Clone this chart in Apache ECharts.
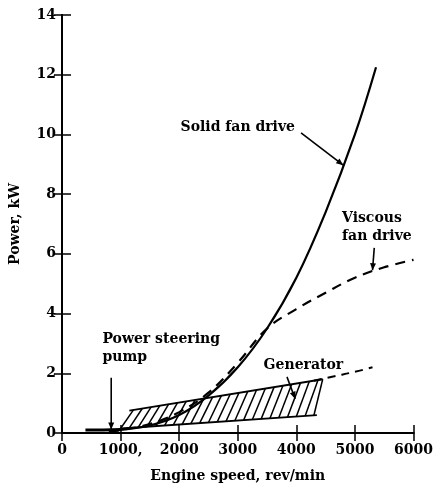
<!DOCTYPE html>
<html><head><meta charset="utf-8">
<script src="https://cdn.jsdelivr.net/npm/echarts@6/dist/echarts.min.js"></script>
<style>html,body{margin:0;padding:0;background:#fff}#c{width:436px;height:490px}</style>
</head><body><div id="c"></div>
<script>
// ---- data ----
const xTickLabels = ['0','1000,','2000','3000','4000','5000','6000'];
const yTickLabels = ['0','2','4','6','8','10','12','14'];

const solidSpeed = [800, 1000, 1500, 2000, 2500, 3000, 3500, 4000, 4500, 5000, 5360];
const solidPower = [0.05, 0.1, 0.25, 0.6, 1.25, 2.2, 3.5, 5.2, 7.4, 10.0, 12.25];

const viscousSpeed = [800, 1000, 1500, 2000, 2500, 3000, 3500, 4000, 4500, 5000, 5500, 6000];
const viscousPower = [0.05, 0.1, 0.3, 0.7, 1.35, 2.35, 3.5, 4.15, 4.7, 5.2, 5.55, 5.8];

const generatorSpeed = [4300, 4650, 5000, 5300];
const generatorPower = [1.75, 1.9, 2.05, 2.2];

const pumpSpeed = [400, 700, 1000];
const pumpPower = [0.1, 0.1, 0.12];

// generator band (hatched)
const bandLowSpeed = [1000, 4350];
const bandLowPower = [0.15, 0.6];
const bandHighSpeed = [1150, 4450];
const bandHighPower = [0.75, 1.8];

// annotations (data units)
const notes = [
  {text: 'Solid fan drive', at: [3000, 10.25], align: 'center', arrow: [[4080, 10.05], [4800, 8.97]]},
  {text: 'Viscous\nfan drive', at: [4780, 6.9], align: 'left', arrow: [[5330, 6.2], [5300, 5.45]]},
  {text: 'Power steering\npump', at: [690, 2.85], align: 'left', arrow: [[840, 1.85], [840, 0.12]]},
  {text: 'Generator', at: [4120, 2.25], align: 'center', arrow: [[3840, 1.88], [3980, 1.15]]}
];

const pair = (xs, ys) => xs.map((x, i) => [x, ys[i]]);
const FONT = 'DejaVu Serif';

function interp(xs, ys, x) {
  const t = (x - xs[0]) / (xs[1] - xs[0]);
  return ys[0] + t * (ys[1] - ys[0]);
}

const chart = echarts.init(document.getElementById('c'));
const lbl = {fontFamily: FONT, fontWeight: 'bold', color: '#000', fontSize: 14};
const axLine = {show: true, lineStyle: {color: '#000', width: 2}};
const option = {
  backgroundColor: '#fff',
  animation: false,
  grid: {left: 62, right: 17, top: 15, bottom: 57},
  xAxis: [
    {type: 'value', min: 0, max: 6000, interval: 1000, position: 'bottom',
     axisLine: {...axLine, onZero: false}, splitLine: {show: false},
     axisTick: {show: true, inside: true, length: 8, lineStyle: {color: '#000', width: 1.5}},
     axisLabel: {...lbl, margin: 10, formatter: v => xTickLabels[Math.round(v / 1000)]},
     name: 'Engine speed, rev/min', nameLocation: 'middle', nameGap: 36,
     nameTextStyle: {...lbl, fontSize: 14}},
    {type: 'value', min: 0, max: 6000, interval: 1000, position: 'top',
     axisLine: axLine, splitLine: {show: false},
     axisTick: {show: true, inside: true, length: 8, lineStyle: {color: '#000', width: 1.5}},
     axisLabel: {show: false}}
  ],
  yAxis: [
    {type: 'value', min: 0, max: 14, interval: 2, position: 'left',
     axisLine: {...axLine, onZero: false}, splitLine: {show: false},
     axisTick: {show: true, inside: true, length: 9, lineStyle: {color: '#000', width: 1.5}},
     axisLabel: {...lbl, margin: 6, formatter: v => yTickLabels[Math.round(v / 2)]},
     name: 'Power, kW', nameLocation: 'middle', nameGap: 40,
     nameTextStyle: {...lbl, fontSize: 14}},
    {type: 'value', min: 0, max: 14, interval: 2, position: 'right',
     axisLine: axLine, splitLine: {show: false},
     axisTick: {show: true, inside: true, length: 8, lineStyle: {color: '#000', width: 1.5}},
     axisLabel: {show: false}}
  ],
  series: [
    {type: 'custom', name: 'band', data: [[0, 0]], silent: true, z: 3,
     renderItem: function (params, api) {
       const children = [];
       const x0 = bandLowSpeed[0], x1 = bandLowSpeed[1];
       const sh = 220; // slant in rpm
       const lo = x => api.coord([x, interp(bandLowSpeed, bandLowPower, x)]);
       const hi = x => api.coord([x, interp(bandHighSpeed, bandHighPower, x)]);
       // outline
       children.push({type: 'polyline', shape: {points: [lo(x0), lo(x1)]}, style: {stroke: '#000', lineWidth: 1.8, fill: null}});
       children.push({type: 'polyline', shape: {points: [hi(x0 + 150), hi(x1 + 100)]}, style: {stroke: '#000', lineWidth: 1.8, fill: null}});
       for (let s = x0; s <= x1 - 50; s += 150) {
         children.push({type: 'line', shape: (function () {
           const a = lo(s), b = hi(Math.min(s + sh, bandHighSpeed[1]));
           return {x1: a[0], y1: a[1], x2: b[0], y2: b[1]};
         })(), style: {stroke: '#000', lineWidth: 1.5}});
       }
       return {type: 'group', children: children};
     }},
    {type: 'line', name: 'Solid fan drive', data: pair(solidSpeed, solidPower), smooth: 0.4,
     showSymbol: false, lineStyle: {color: '#000', width: 2.2}, z: 4},
    {type: 'line', name: 'Viscous fan drive', data: pair(viscousSpeed, viscousPower), smooth: 0.4,
     showSymbol: false, lineStyle: {color: '#000', width: 2.2, type: [10, 7]}, z: 4},
    {type: 'line', name: 'Generator', data: pair(generatorSpeed, generatorPower), smooth: true,
     showSymbol: false, lineStyle: {color: '#000', width: 2, type: [8, 6]}, z: 4},
    {type: 'line', name: 'Power steering pump', data: pair(pumpSpeed, pumpPower),
     showSymbol: false, lineStyle: {color: '#000', width: 3}, z: 4}
  ]
};
chart.setOption(option);

// annotations placed via axis scales
const graphics = [];
notes.forEach(n => {
  const p = chart.convertToPixel({xAxisIndex: 0, yAxisIndex: 0}, n.at);
  graphics.push({type: 'text', x: p[0], y: p[1], z: 10,
    style: {text: n.text, font: 'bold 14px "' + FONT + '"', fill: '#000', align: n.align, verticalAlign: 'middle', lineHeight: 18}});
  const a = chart.convertToPixel({xAxisIndex: 0, yAxisIndex: 0}, n.arrow[0]);
  const b = chart.convertToPixel({xAxisIndex: 0, yAxisIndex: 0}, n.arrow[1]);
  graphics.push({type: 'line', z: 10, shape: {x1: a[0], y1: a[1], x2: b[0], y2: b[1]}, style: {stroke: '#000', lineWidth: 1.6}});
  const ang = Math.atan2(b[1] - a[1], b[0] - a[0]);
  const L = 7, W = 3;
  const bx = b[0] - L * Math.cos(ang), by = b[1] - L * Math.sin(ang);
  graphics.push({type: 'polygon', z: 10, shape: {points: [
    [b[0], b[1]],
    [bx + W * Math.sin(ang), by - W * Math.cos(ang)],
    [bx - W * Math.sin(ang), by + W * Math.cos(ang)]
  ]}, style: {fill: '#000'}});
});
chart.setOption({graphic: graphics});
</script></body></html>
